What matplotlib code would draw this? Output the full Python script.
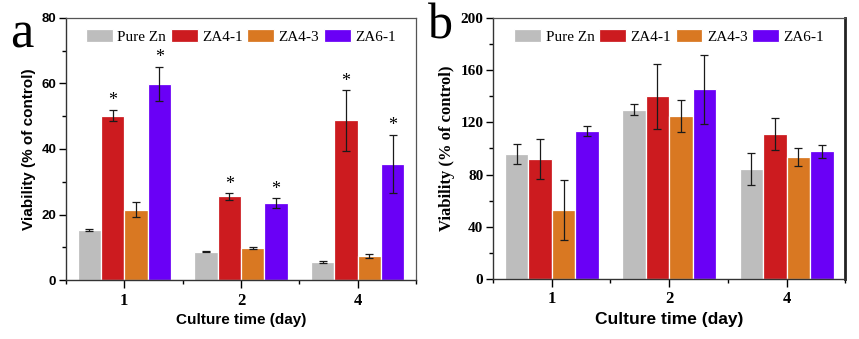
import matplotlib
matplotlib.use('Agg')
import matplotlib.pyplot as plt
from matplotlib.ticker import MultipleLocator, FixedLocator
import numpy as np

# data
days = ['1', '2', '4']
groups = ['Pure Zn', 'ZA4-1', 'ZA4-3', 'ZA6-1']
colors = ['#bdbdbd', '#cc1b1f', '#d97822', '#6a00f6']

# panel a
a_mean = {
    'Pure Zn': [15.3, 8.7, 5.4],
    'ZA4-1': [50.2, 25.5, 48.7],
    'ZA4-3': [21.4, 9.8, 7.3],
    'ZA6-1': [59.8, 23.4, 35.5],
}
a_err = {
    'Pure Zn': [0.4, 0.2, 0.3],
    'ZA4-1': [1.7, 1.0, 9.2],
    'ZA4-3': [2.3, 0.2, 0.5],
    'ZA6-1': [5.3, 1.5, 8.9],
}
a_star = ['ZA4-1', 'ZA6-1']

# panel b
b_mean = {
    'Pure Zn': [95.5, 129.8, 84.0],
    'ZA4-1': [92.0, 140.0, 111.2],
    'ZA4-3': [53.0, 125.0, 93.5],
    'ZA6-1': [113.3, 145.5, 98.0],
}
b_err = {
    'Pure Zn': [7.7, 4.5, 12.3],
    'ZA4-1': [15.0, 25.0, 12.0],
    'ZA4-3': [23.0, 12.2, 7.0],
    'ZA6-1': [3.6, 26.5, 5.0],
}

SANS = 'Liberation Sans'
SERIF = 'Liberation Serif'


def draw_panel(ax, mean, err, stars, ymax, ymajor, yfont, ylabfont, ylabsize, xlabsize, yticksize):
    x = np.arange(1, len(days) + 1)
    w = 0.2
    for i, g in enumerate(groups):
        pos = x + (i - 1.5) * w
        ax.bar(pos, mean[g], width=w, color=colors[i], edgecolor='white', linewidth=0.9,
               label=g, zorder=2)
        ax.errorbar(pos, mean[g], yerr=err[g], fmt='none', ecolor='#1a1a1a', elinewidth=0.9,
                    capsize=2.6, capthick=0.9, zorder=3)
        if g in stars:
            for p, m, e in zip(pos, mean[g], err[g]):
                ax.annotate('*', (p, m + e), xytext=(0, 0.5), textcoords='offset points',
                            ha='center', va='bottom', fontsize=13, family=SERIF)
    ax.set_xlim(0.5, 3.5)
    ax.set_ylim(0, ymax)
    ax.xaxis.set_major_locator(FixedLocator(x))
    ax.xaxis.set_minor_locator(FixedLocator([0.5, 1.5, 2.5, 3.5]))
    ax.set_xticklabels(days, family=SERIF, fontweight='bold', fontsize=12)
    ax.yaxis.set_major_locator(MultipleLocator(ymajor))
    ax.yaxis.set_minor_locator(MultipleLocator(ymajor / 2))
    for t in ax.get_yticklabels():
        t.set_family(yfont)
        t.set_fontweight('bold')
        t.set_fontsize(yticksize)
    ax.tick_params(axis='both', which='major', direction='out', length=5, width=1, pad=2)
    ax.tick_params(axis='x', which='major', length=6, pad=3)
    ax.tick_params(axis='both', which='minor', direction='out', length=3, width=1)
    ax.set_xlabel('Culture time (day)', family=SANS, fontweight='bold', fontsize=xlabsize, labelpad=3)
    ax.set_ylabel('Viability (% of control)', family=ylabfont, fontweight='bold',
                  fontsize=ylabsize, labelpad=4)
    for s in ['left', 'bottom']:
        ax.spines[s].set_color('#333333')
        ax.spines[s].set_linewidth(1.0)
    ax.spines['top'].set_color('#555555')
    ax.spines['top'].set_linewidth(0.9)
    ax.legend(loc='center', bbox_to_anchor=(0.5, 0.93), ncol=4, frameon=False,
              prop={'family': SERIF, 'size': 11}, handlelength=1.75, handleheight=1.0,
              handletextpad=0.3, columnspacing=0.3, borderaxespad=0)


fig = plt.figure(figsize=(8.59, 3.39), dpi=100)
ax1 = fig.add_axes([0.0768, 0.174, 0.4075, 0.773])
ax2 = fig.add_axes([0.574, 0.177, 0.410, 0.770])

draw_panel(ax1, a_mean, a_err, a_star, 80, 20, SANS, SANS, 11, 11, 9.5)
ax1.spines['right'].set_color('#555555')
ax1.spines['right'].set_linewidth(0.9)

draw_panel(ax2, b_mean, b_err, [], 200, 40, SERIF, SERIF, 12, 12.5, 11)
ax2.spines['right'].set_color('#222222')
ax2.spines['right'].set_linewidth(2.0)

fig.text(0.012, 0.86, 'a', family=SERIF, fontsize=38)
fig.text(0.498, 0.885, 'b', family=SERIF, fontsize=36)

fig.savefig('out.png', dpi=100)
